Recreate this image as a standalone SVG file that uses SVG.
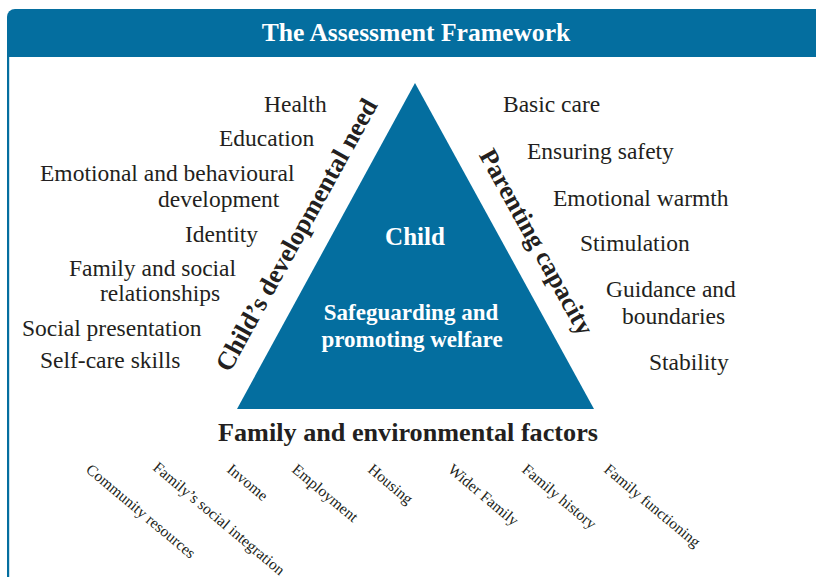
<svg xmlns="http://www.w3.org/2000/svg" width="816" height="577" viewBox="0 0 816 577">
<style>
.lab{font-family:"Liberation Serif",serif;font-size:23.5px;fill:#231f20}
.bot{font-family:"Liberation Serif",serif;font-size:15.6px;fill:#231f20}
.bold{font-family:"Liberation Serif",serif;font-weight:bold;fill:#231f20}
.w{font-family:"Liberation Serif",serif;font-weight:bold;fill:#ffffff;text-anchor:middle}
</style>
<rect width="816" height="577" fill="#ffffff"/>
<g id="frame">
<path d="M7,57 V17 A8,8 0 0 1 15,9 H816 V57 Z" fill="#046e9f"/>
<rect x="7" y="57" width="2.2" height="520" fill="#046e9f"/>
<text class="w" x="416" y="41" font-size="25.6">The Assessment Framework</text>
</g>
<g id="triangle">
<polygon points="415,83 237,409 594,409" fill="#046e9f"/>
<text class="w" x="415" y="245" font-size="25">Child</text>
<text class="w" x="411" y="320" font-size="23">Safeguarding and</text>
<text class="w" x="412" y="347" font-size="23">promoting welfare</text>
</g>
<g id="child-needs">
<text class="bold" x="304" y="239" font-size="26" text-anchor="middle" transform="rotate(-61 304 239)">Child’s developmental need</text>
<text class="lab" x="264" y="112">Health</text>
<text class="lab" x="219" y="146">Education</text>
<text class="lab" x="40" y="181">Emotional and behavioural</text>
<text class="lab" x="158" y="207">development</text>
<text class="lab" x="185" y="242">Identity</text>
<text class="lab" x="69" y="276">Family and social</text>
<text class="lab" x="100" y="301">relationships</text>
<text class="lab" x="22" y="336">Social presentation</text>
<text class="lab" x="40" y="368">Self-care skills</text>
</g>
<g id="parenting">
<text class="bold" x="529" y="246" font-size="26" text-anchor="middle" transform="rotate(61 529 246)">Parenting capacity</text>
<text class="lab" x="503" y="112">Basic care</text>
<text class="lab" x="527" y="159">Ensuring safety</text>
<text class="lab" x="553" y="206">Emotional warmth</text>
<text class="lab" x="580" y="251">Stimulation</text>
<text class="lab" x="606" y="297">Guidance and</text>
<text class="lab" x="622" y="324">boundaries</text>
<text class="lab" x="649" y="370">Stability</text>
</g>
<g id="family">
<text class="bold" x="408" y="441" font-size="26.2" text-anchor="middle">Family and environmental factors</text>
<text class="bot" x="85" y="471" transform="rotate(40 85 471)">Community resources</text>
<text class="bot" x="152" y="469" font-size="14.2" transform="rotate(40 152 469)">Family’s social integration</text>
<text class="bot" x="226" y="471" transform="rotate(40 226 471)">Invome</text>
<text class="bot" x="291" y="471" transform="rotate(40 291 471)">Employment</text>
<text class="bot" x="367" y="471" transform="rotate(40 367 471)">Housing</text>
<text class="bot" x="447" y="471" transform="rotate(40 447 471)">Wider Family</text>
<text class="bot" x="521" y="471" transform="rotate(40 521 471)">Family history</text>
<text class="bot" x="603" y="471" transform="rotate(40 603 471)">Family functioning</text>
</g>
</svg>
